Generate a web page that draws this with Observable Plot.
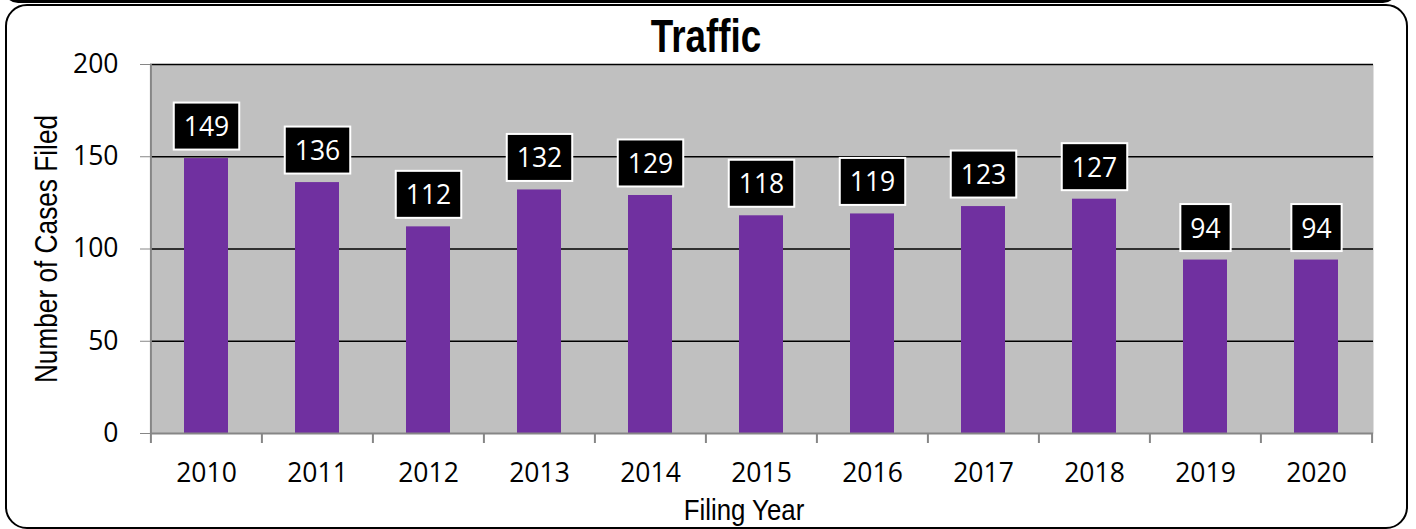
<!DOCTYPE html>
<html>
<head>
<meta charset="utf-8">
<script src="https://cdn.jsdelivr.net/npm/d3@7"></script>
<script src="https://cdn.jsdelivr.net/npm/@observablehq/plot@0.6"></script>
<style>
  html, body { margin: 0; padding: 0; background: #fff; width: 1416px; height: 529px; overflow: hidden; position: relative; }
  #prev { position: absolute; left: 4px; top: -37px; width: 1393px; height: 40px; border: 3px solid #000; border-radius: 14px; box-sizing: border-box; }
  #frame { position: absolute; left: 5px; top: 4px; width: 1403px; height: 525px; border: 2.5px solid #000; border-radius: 22px; box-sizing: border-box; }
  #chart { position: absolute; left: 0; top: 0; }
  .lbl { position: absolute; white-space: nowrap; font-family: "Liberation Sans", Arial, sans-serif; color: #000; }
  #title { left: 0; width: 1413px; top: 13px; text-align: center; font-size: 46px; line-height: 46px; font-weight: bold; }
  #title span { display: inline-block; transform: scaleX(0.8); }
  #xlabel { left: 744px; top: 495px; font-size: 30px; line-height: 30px; transform: translateX(-50%) scaleX(0.86); }
  #ylabel { left: 45.5px; top: 248.5px; font-size: 30.5px; line-height: 30px; transform: translate(-50%, -50%) rotate(-90deg) scaleX(0.86); }
</style>
</head>
<body>
<div id="prev"></div>
<div id="frame"></div>
<div id="chart"></div>
<div class="lbl" id="title"><span>Traffic</span></div>
<div class="lbl" id="xlabel">Filing Year</div>
<div class="lbl" id="ylabel">Number of Cases Filed</div>
<script>
// ---- data ----
const years = ["2010", "2011", "2012", "2013", "2014", "2015", "2016", "2017", "2018", "2019", "2020"];
const cases = [149, 136, 112, 132, 129, 118, 119, 123, 127, 94, 94];
const yTicks = [0, 50, 100, 150, 200];
const gridValues = [50, 100, 150, 200];

const data = years.map((year, i) => ({year, cases: cases[i]}));

// ---- layout ----
const W = 1416, H = 529;
const ML = 150, MR = 43, MT = 64, MB = 96;
const step = (W - ML - MR) / years.length;
const axisGray = "#868686";
const font = "'Open Sans', sans-serif";

const chart = Plot.plot({
  width: W,
  height: H,
  marginLeft: ML,
  marginRight: MR,
  marginTop: MT,
  marginBottom: MB,
  style: {background: "transparent", fontFamily: font, fontSize: "26.5px", color: "#000"},
  x: {domain: years, paddingInner: 0.6, paddingOuter: 0.3, align: 0.5, axis: null},
  y: {domain: [yTicks[0], yTicks[yTicks.length - 1]], axis: null},
  marks: [
    Plot.frame({fill: "#c0c0c0", stroke: "none"}),
    Plot.ruleY(gridValues, {stroke: "#000", strokeWidth: 1.5}),
    Plot.barY(data, {x: "year", y: "cases", fill: "#7030a0"}),
    // bottom axis line
    Plot.ruleY([yTicks[0]], {stroke: axisGray, strokeWidth: 2}),
    // left axis line
    Plot.ruleX([years[0]], {dx: -step / 2, y1: yTicks[0], y2: yTicks[yTicks.length - 1], stroke: axisGray, strokeWidth: 2}),
    // category boundary ticks
    Plot.ruleX(years, {x: d => d, dx: -step / 2, y1: yTicks[0], y2: yTicks[0], insetBottom: -10, stroke: axisGray, strokeWidth: 2}),
    Plot.ruleX([years[years.length - 1]], {dx: step / 2, y1: yTicks[0], y2: yTicks[0], insetBottom: -10, stroke: axisGray, strokeWidth: 2}),
    Plot.axisY(yTicks, {tickSize: 10, tickPadding: 22, stroke: axisGray, fill: "#000", fontSize: 26.5, label: null}),
    Plot.axisX(years, {tickSize: 0, tickPadding: 30, fill: "#000", fontSize: 26.5, label: null}),
    Plot.text(data, {x: "year", y: "cases", text: d => String(d.cases), dy: -31, fill: "#fff", fontSize: 26.5, lineAnchor: "middle", ariaLabel: () => "value-label"})
  ]
});
document.getElementById("chart").appendChild(chart);

// boxes behind the value labels, sized to the rendered text
const labelTexts = [];
chart.querySelectorAll('[aria-label="value-label"]').forEach(el => {
  if (el.tagName.toLowerCase() === "text") labelTexts.push(el);
  else el.querySelectorAll("text").forEach(t => labelTexts.push(t));
});
labelTexts.forEach(t => {
  const b = t.getBBox();
  const r = document.createElementNS("http://www.w3.org/2000/svg", "rect");
  const bw = b.width + 20, bh = 47;
  r.setAttribute("x", b.x + b.width / 2 - bw / 2);
  r.setAttribute("y", b.y + b.height / 2 - bh / 2);
  r.setAttribute("width", bw);
  r.setAttribute("height", bh);
  r.setAttribute("fill", "#000");
  r.setAttribute("stroke", "#fff");
  r.setAttribute("stroke-width", "2");
  const tr = t.getAttribute("transform");
  if (tr) r.setAttribute("transform", tr);
  t.parentNode.insertBefore(r, t);
});
</script>
</body>
</html>
